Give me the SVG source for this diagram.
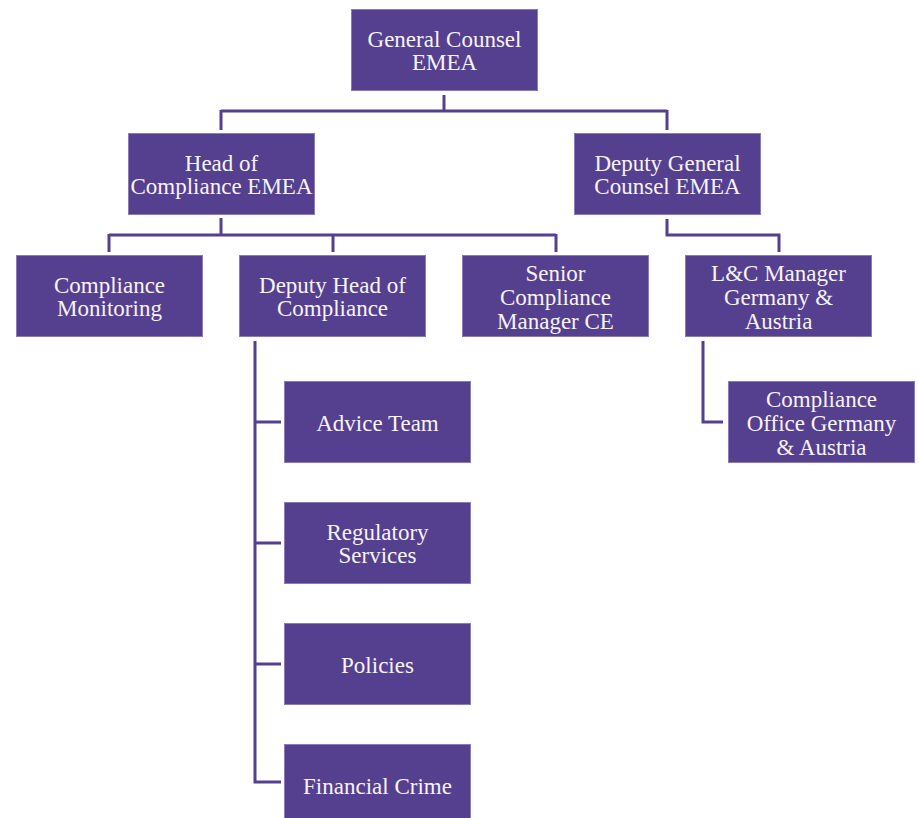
<svg xmlns="http://www.w3.org/2000/svg" width="919" height="818" viewBox="0 0 919 818">
<style>
.box{fill:#553f8f;stroke:#8a7bb8;stroke-width:1}
.t{font-family:"Liberation Serif","Times New Roman",serif;font-size:23px;fill:#f6f3fa;text-anchor:middle}
.c{fill:none;stroke:#553f8f;stroke-width:3}
</style>
<rect width="919" height="818" fill="#ffffff"/>
<g id="connectors">
<path class="c" d="M444,95 V111 M221,111 H667 M221,110 V130 M667,110 V130"/>
<path class="c" d="M221,218 V235 M109,235 H556 M109,234 V252 M333,234 V252 M556,234 V252"/>
<path class="c" d="M667,219 V235 H779 V252"/>
<path class="c" d="M255,341 V782 H281 M255,422 H281 M255,543 H281 M255,664 H281"/>
<path class="c" d="M703,341 V422 H723"/>
</g>
<g id="general-counsel"><rect class="box" x="351.5" y="9.5" width="186" height="81"/><text class="t" x="444.5" y="47">General Counsel</text><text class="t" x="444.5" y="70">EMEA</text></g>
<g id="head-compliance"><rect class="box" x="128.5" y="133.5" width="186" height="81"/><text class="t" x="221.5" y="171">Head of</text><text class="t" x="221.5" y="194">Compliance EMEA</text></g>
<g id="deputy-gc"><rect class="box" x="574.5" y="133.5" width="186" height="81"/><text class="t" x="667.5" y="171">Deputy General</text><text class="t" x="667.5" y="194">Counsel EMEA</text></g>
<g id="compliance-monitoring"><rect class="box" x="16.5" y="255.5" width="186" height="81"/><text class="t" x="109.5" y="293">Compliance</text><text class="t" x="109.5" y="316">Monitoring</text></g>
<g id="deputy-head"><rect class="box" x="239.5" y="255.5" width="186" height="81"/><text class="t" x="332.5" y="293">Deputy Head of</text><text class="t" x="332.5" y="316">Compliance</text></g>
<g id="senior-compliance"><rect class="box" x="462.5" y="255.5" width="186" height="81"/><text class="t" x="555.5" y="281">Senior</text><text class="t" x="555.5" y="305">Compliance</text><text class="t" x="555.5" y="329">Manager CE</text></g>
<g id="lc-manager"><rect class="box" x="685.5" y="255.5" width="186" height="81"/><text class="t" x="778.5" y="281">L&amp;C Manager</text><text class="t" x="778.5" y="305">Germany &amp;</text><text class="t" x="778.5" y="329">Austria</text></g>
<g id="advice-team"><rect class="box" x="284.5" y="381.5" width="186" height="81"/><text class="t" x="377.5" y="431">Advice Team</text></g>
<g id="regulatory-services"><rect class="box" x="284.5" y="502.5" width="186" height="81"/><text class="t" x="377.5" y="540">Regulatory</text><text class="t" x="377.5" y="563">Services</text></g>
<g id="policies"><rect class="box" x="284.5" y="623.5" width="186" height="81"/><text class="t" x="377.5" y="673">Policies</text></g>
<g id="financial-crime"><rect class="box" x="284.5" y="744.5" width="186" height="81"/><text class="t" x="377.5" y="794">Financial Crime</text></g>
<g id="compliance-office"><rect class="box" x="728.5" y="381.5" width="186" height="81"/><text class="t" x="821.5" y="407">Compliance</text><text class="t" x="821.5" y="431">Office Germany</text><text class="t" x="821.5" y="455">&amp; Austria</text></g>
</svg>
